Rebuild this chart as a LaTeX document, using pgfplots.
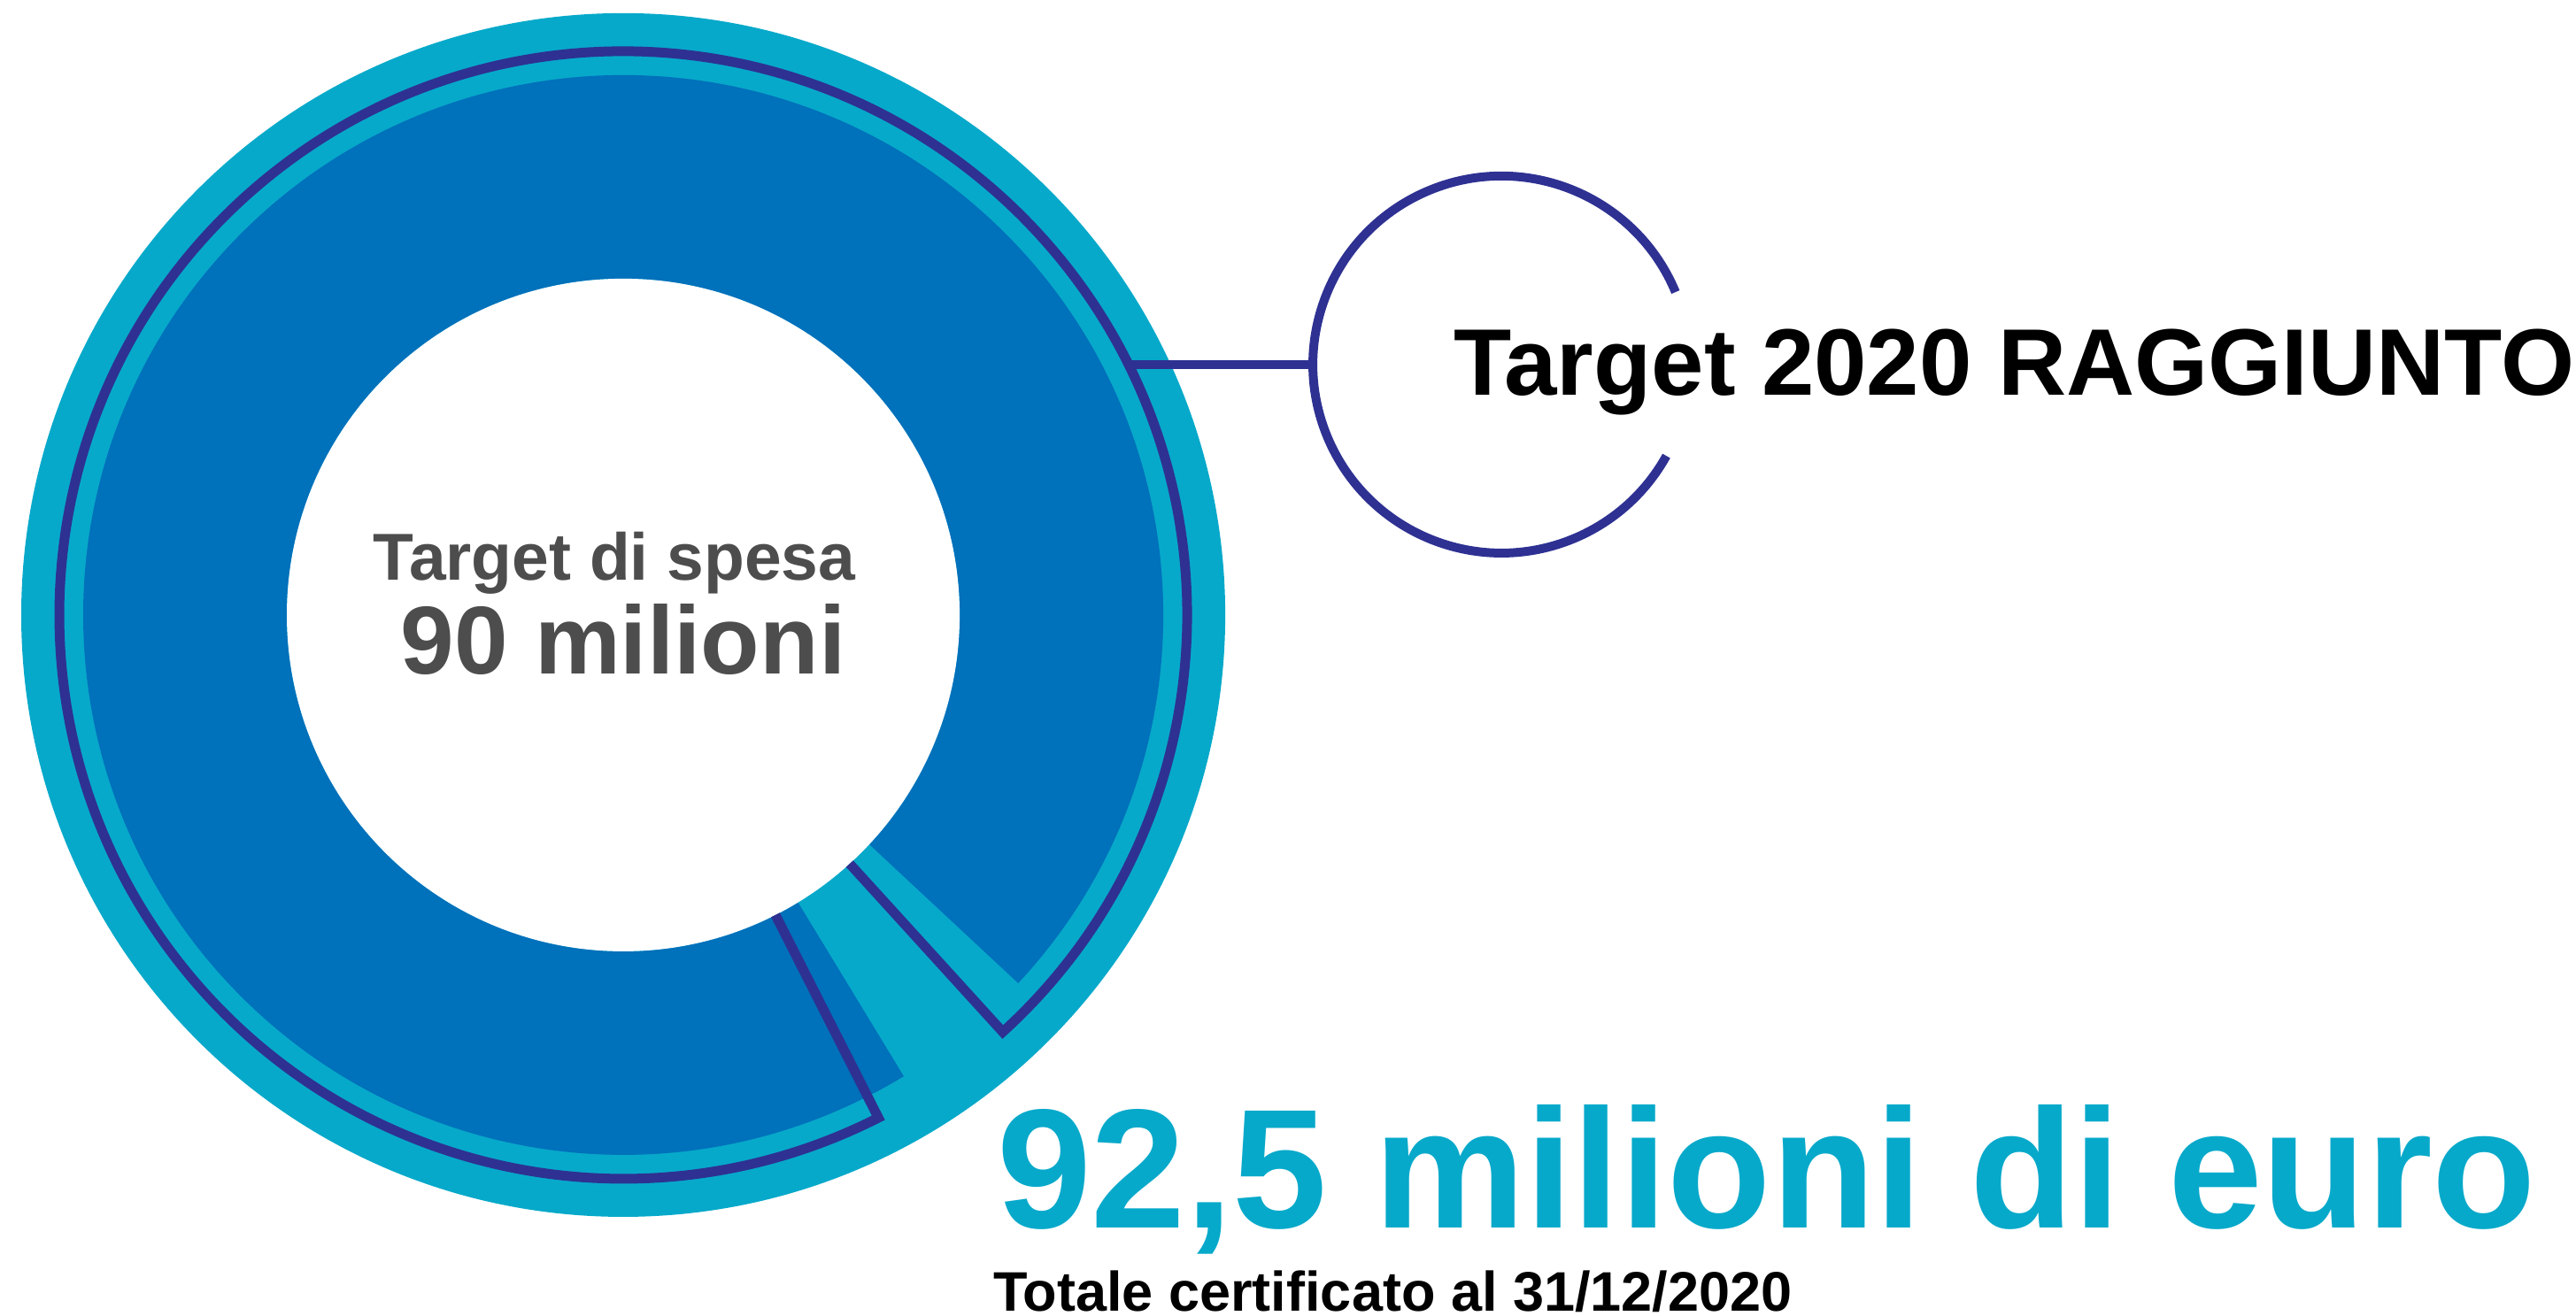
\documentclass[border=0pt]{standalone}
\usepackage{fontspec}
\setmainfont{Liberation Sans}
\usepackage{pgfplots}
\pgfplotsset{compat=1.18}

\definecolor{ciano}{HTML}{07A9CA}
\definecolor{blu}{HTML}{0071BB}
\definecolor{navy}{HTML}{2E3192}
\definecolor{grigio}{HTML}{4D4D4D}

% donut centre and radii (units = pixels of the original picture)
\def\cx{704}\def\cy{792}
\def\rin{380}\def\rblu{610}\def\rnavy{637}\def\rout{680}
% sector angles
\def\bluA{-43}\def\bluB{301.3}   % dark blue band
\def\navA{-47.7}\def\navB{296.9} % navy outline (target 90)
% small circle on the right
\def\sx{1696}\def\sy{1075}\def\sr{213}

\begin{document}
\begin{tikzpicture}
\path[use as bounding box] (0,0) rectangle (291pt,148.7pt);
\begin{axis}[
  width=291pt, height=148.7pt, scale only axis,
  xmin=0, xmax=2910, ymin=0, ymax=1487,
  hide axis, clip=false, disabledatascaling,
]
% outer light blue disc
\fill[ciano] (axis cs:\cx,\cy) circle[radius=\rout];
% dark blue band
\fill[blu] (axis cs:{\cx+\rblu*cos(\bluA)},{\cy+\rblu*sin(\bluA)})
   arc[start angle=\bluA, end angle=\bluB, radius=\rblu]
   -- (axis cs:{\cx+\rin*cos(\bluB)},{\cy+\rin*sin(\bluB)})
   arc[start angle=\bluB, end angle=\bluA, radius=\rin] -- cycle;
% hole
\fill[white] (axis cs:\cx,\cy) circle[radius=\rin];
% navy outline
\draw[navy, line width=1.1pt, line join=miter]
   (axis cs:{\cx+\rin*cos(\navA)},{\cy+\rin*sin(\navA)})
   -- (axis cs:{\cx+\rnavy*cos(\navA)},{\cy+\rnavy*sin(\navA)})
   arc[start angle=\navA, end angle=\navB, radius=\rnavy]
   -- (axis cs:{\cx+\rin*cos(\navB)},{\cy+\rin*sin(\navB)});
% connector and small circle
\draw[navy, line width=1.07pt] (axis cs:1274,\sy) -- (axis cs:{\sx-\sr},\sy);
\draw[navy, line width=1.0pt]
   (axis cs:{\sx+\sr*cos(22.6)},{\sy+\sr*sin(22.6)})
   arc[start angle=22.6, end angle=331, radius=\sr];

% texts
\node[anchor=base, inner sep=0, text=grigio, font=\bfseries\fontsize{7.5pt}{9pt}\selectfont]
  at (axis cs:694,831) {Target di spesa};
\node[anchor=base, inner sep=0, text=grigio, font=\bfseries\fontsize{10.9pt}{12pt}\selectfont]
  at (axis cs:704,725) {90 milioni};
\node[anchor=base west, inner sep=0, font=\bfseries\fontsize{10.68pt}{12pt}\selectfont]
  at (axis cs:1640,1040) {Target 2020 RAGGIUNTO};
\node[anchor=base west, inner sep=0, text=ciano, font=\bfseries\fontsize{19.2pt}{22pt}\selectfont]
  at (axis cs:1124,99) {92,5 milioni di euro};
\node[anchor=base west, inner sep=0, font=\bfseries\fontsize{6.3pt}{8pt}\selectfont]
  at (axis cs:1120,5) {Totale certificato al 31/12/2020};
\end{axis}
\end{tikzpicture}
\end{document}
